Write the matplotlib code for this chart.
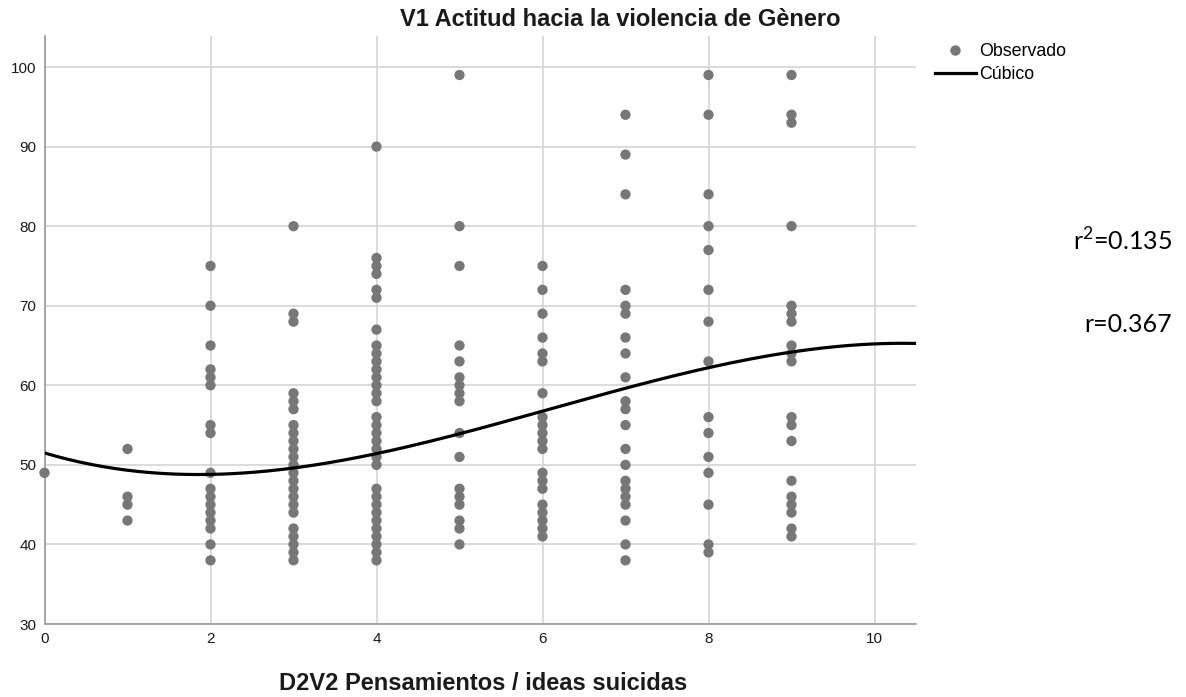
import numpy as np
import matplotlib
matplotlib.use("Agg")
import matplotlib.pyplot as plt
from matplotlib.lines import Line2D

X_LEVELS = [0, 1, 2, 3, 4, 5, 6, 7, 8, 9]
Y_BY_LEVEL = [
    [49],
    [52, 46, 45, 43],
    [75, 70, 65, 62, 61, 60, 55, 54, 49, 47, 46, 45, 44, 43, 42, 40, 38],
    [80, 69, 68, 59, 58, 57, 55, 54, 53, 52, 51, 50, 49, 48, 47, 46, 45, 44,
     42, 41, 40, 39, 38],
    [90, 76, 75, 74, 72, 71, 67, 65, 64, 63, 62, 61, 60, 59, 58, 56, 55, 54,
     53, 52, 51, 50, 47, 46, 45, 44, 43, 42, 41, 40, 39, 38],
    [99, 80, 75, 65, 63, 61, 60, 59, 58, 54, 51, 47, 46, 45, 43, 42, 40],
    [75, 72, 69, 66, 64, 63, 59, 56, 55, 54, 53, 52, 49, 48, 47, 45, 44, 43,
     42, 41],
    [94, 89, 84, 72, 70, 69, 66, 64, 61, 58, 57, 55, 52, 50, 48, 47, 46, 45,
     43, 40, 38],
    [99, 94, 84, 80, 77, 72, 68, 63, 56, 54, 51, 49, 45, 40, 39],
    [99, 94, 93, 80, 70, 69, 68, 65, 64, 63, 56, 55, 53, 48, 46, 45, 44, 42,
     41],
]

# cubic fit coefficients (highest power first)
CUBIC_COEF = [-0.05406, 0.98875, -3.11125, 51.5]

X_TICKS = [0, 2, 4, 6, 8, 10]
Y_TICKS = [30, 40, 50, 60, 70, 80, 90, 100]

TITLE = "V1 Actitud hacia la violencia de Gènero"
XLABEL = "D2V2 Pensamientos / ideas suicidas"
R2_TEXT = "r$^2$=0.135"
R_TEXT = "r=0.367"

DOT = "#777777"
GRID = "#d4d4d4"
AXIS = "#999999"
TEXT = "#1a1a1a"


def main():
    plt.rcParams["font.family"] = ["Liberation Sans", "DejaVu Sans"]
    plt.rcParams["mathtext.fontset"] = "custom"
    plt.rcParams["mathtext.rm"] = "Lato"
    fig = plt.figure(figsize=(11.86, 6.97), dpi=100)
    ax = fig.add_axes([44.5 / 1186, 1 - 624 / 697, (916 - 44.5) / 1186, (624 - 36) / 697])

    xs = [x for x, ys in zip(X_LEVELS, Y_BY_LEVEL) for _ in ys]
    ys = [y for ys_ in Y_BY_LEVEL for y in ys_]
    ax.scatter(xs, ys, s=55, color=DOT, edgecolors="none", zorder=3, clip_on=False)

    xx = np.linspace(0, 10.5, 300)
    ax.plot(xx, np.polyval(CUBIC_COEF, xx), color="black", lw=2.3, zorder=4)

    ax.set_xlim(0, 10.5)
    ax.set_ylim(30, 103.9)
    ax.set_xticks(X_TICKS)
    ax.set_yticks(Y_TICKS)
    ax.tick_params(length=0, labelsize=11, colors=TEXT, pad=6)
    ax.grid(True, color=GRID, lw=1.2)
    ax.set_axisbelow(True)
    for side in ["top", "right"]:
        ax.spines[side].set_visible(False)
    for side in ["left", "bottom"]:
        ax.spines[side].set_color(AXIS)
        ax.spines[side].set_linewidth(1.2)

    fig.text(620 / 1186, 1 - 20 / 697, TITLE, ha="center", va="center",
             fontsize=17, fontweight="bold", color=TEXT)
    fig.text(483 / 1186, 1 - 684 / 697, XLABEL, ha="center", va="center",
             fontsize=17, fontweight="bold", color=TEXT)

    handles = [
        Line2D([], [], marker="o", ls="none", color=DOT, markersize=7.5, markeredgewidth=0),
        Line2D([], [], color="black", lw=2.3),
    ]
    fig.legend(handles, ["Observado", "Cúbico"], loc="upper left",
               bbox_to_anchor=(935 / 1186, 1 - 43 / 697), frameon=False,
               fontsize=12.8, handlelength=2.3, handletextpad=0.2,
               labelspacing=0.35, borderaxespad=0, borderpad=0)

    fig.text(1172 / 1186, 1 - 241 / 697, R2_TEXT, ha="right", va="center",
             fontsize=18, family=["Lato", "DejaVu Sans"])
    fig.text(1172 / 1186, 1 - 325 / 697, R_TEXT, ha="right", va="center",
             fontsize=18, family=["Lato", "DejaVu Sans"])

    fig.savefig("out.png", dpi=100)


if __name__ == "__main__":
    main()
